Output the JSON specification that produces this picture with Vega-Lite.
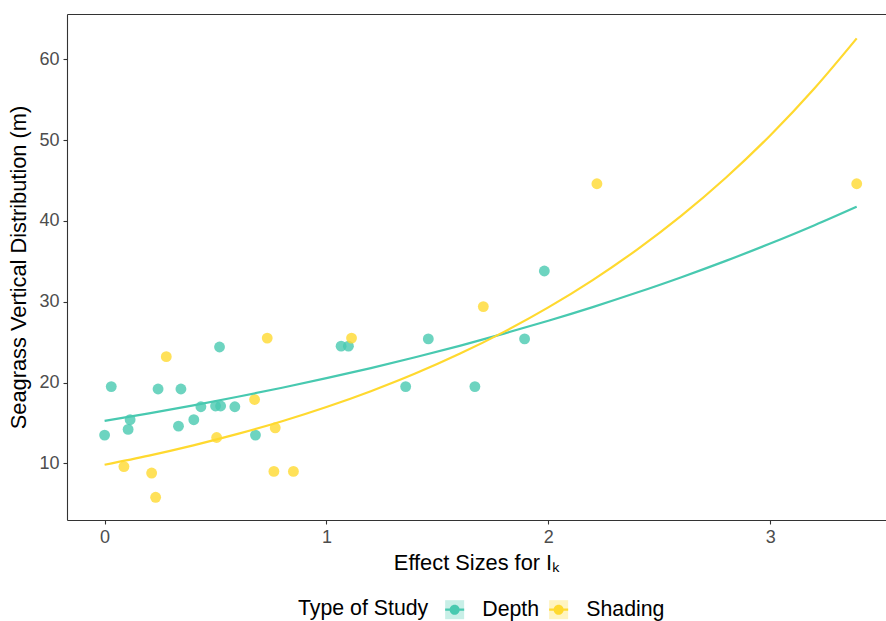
{
  "$schema": "https://vega.github.io/schema/vega-lite/v6.json",
  "width": 819,
  "height": 506,
  "autosize": "none",
  "padding": {"left": 67, "top": 14, "right": 0, "bottom": 101},
  "background": "white",
  "config": {
    "view": {"stroke": null},
    "font": "Liberation Sans",
    "axis": {
      "grid": false,
      "domainColor": "#333333",
      "domainWidth": 1.1,
      "tickColor": "#333333",
      "tickWidth": 1.1,
      "tickSize": 4,
      "labelColor": "#4D4D4D",
      "labelFontSize": 18,
      "labelFont": "Liberation Sans",
      "titleFont": "Liberation Sans",
      "titleFontSize": 21.8,
      "titleFontWeight": "normal",
      "titleColor": "#000000"
    },
    "legend": {
      "labelFont": "Liberation Sans",
      "titleFont": "Liberation Sans",
      "labelFontSize": 21.3,
      "titleFontSize": 21.3,
      "titleFontWeight": "normal",
      "labelColor": "#000000",
      "titleColor": "#000000",
      "padding": 0
    }
  },
  "datasets": {
    "points": [
      {"effect": 0.0, "depth": 13.5, "type": "Depth"},
      {"effect": 0.03, "depth": 19.5, "type": "Depth"},
      {"effect": 0.106, "depth": 14.2, "type": "Depth"},
      {"effect": 0.115, "depth": 15.4, "type": "Depth"},
      {"effect": 0.241, "depth": 19.2, "type": "Depth"},
      {"effect": 0.333, "depth": 14.6, "type": "Depth"},
      {"effect": 0.344, "depth": 19.2, "type": "Depth"},
      {"effect": 0.402, "depth": 15.4, "type": "Depth"},
      {"effect": 0.434, "depth": 17.0, "type": "Depth"},
      {"effect": 0.5, "depth": 17.1, "type": "Depth"},
      {"effect": 0.523, "depth": 17.1, "type": "Depth"},
      {"effect": 0.518, "depth": 24.4, "type": "Depth"},
      {"effect": 0.587, "depth": 17.0, "type": "Depth"},
      {"effect": 0.68, "depth": 13.5, "type": "Depth"},
      {"effect": 1.066, "depth": 24.5, "type": "Depth"},
      {"effect": 1.099, "depth": 24.5, "type": "Depth"},
      {"effect": 1.357, "depth": 19.5, "type": "Depth"},
      {"effect": 1.459, "depth": 25.4, "type": "Depth"},
      {"effect": 1.669, "depth": 19.5, "type": "Depth"},
      {"effect": 1.893, "depth": 25.4, "type": "Depth"},
      {"effect": 1.982, "depth": 33.8, "type": "Depth"},
      {"effect": 0.087, "depth": 9.6, "type": "Shading"},
      {"effect": 0.212, "depth": 8.8, "type": "Shading"},
      {"effect": 0.23, "depth": 5.8, "type": "Shading"},
      {"effect": 0.278, "depth": 23.2, "type": "Shading"},
      {"effect": 0.505, "depth": 13.2, "type": "Shading"},
      {"effect": 0.676, "depth": 17.9, "type": "Shading"},
      {"effect": 0.733, "depth": 25.5, "type": "Shading"},
      {"effect": 0.763, "depth": 9.0, "type": "Shading"},
      {"effect": 0.769, "depth": 14.4, "type": "Shading"},
      {"effect": 0.851, "depth": 9.0, "type": "Shading"},
      {"effect": 1.113, "depth": 25.5, "type": "Shading"},
      {"effect": 1.707, "depth": 29.4, "type": "Shading"},
      {"effect": 2.219, "depth": 44.6, "type": "Shading"},
      {"effect": 3.39, "depth": 44.6, "type": "Shading"}
    ],
    "curves": [
      {"effect": 0.0, "depth": 15.26, "type": "Depth"},
      {"effect": 0.2, "depth": 16.19, "type": "Depth"},
      {"effect": 0.4, "depth": 17.18, "type": "Depth"},
      {"effect": 0.6, "depth": 18.24, "type": "Depth"},
      {"effect": 0.8, "depth": 19.35, "type": "Depth"},
      {"effect": 1.0, "depth": 20.54, "type": "Depth"},
      {"effect": 1.2, "depth": 21.79, "type": "Depth"},
      {"effect": 1.4, "depth": 23.13, "type": "Depth"},
      {"effect": 1.6, "depth": 24.54, "type": "Depth"},
      {"effect": 1.8, "depth": 26.05, "type": "Depth"},
      {"effect": 2.0, "depth": 27.64, "type": "Depth"},
      {"effect": 2.2, "depth": 29.33, "type": "Depth"},
      {"effect": 2.4, "depth": 31.13, "type": "Depth"},
      {"effect": 2.6, "depth": 33.03, "type": "Depth"},
      {"effect": 2.8, "depth": 35.05, "type": "Depth"},
      {"effect": 3.0, "depth": 37.2, "type": "Depth"},
      {"effect": 3.2, "depth": 39.47, "type": "Depth"},
      {"effect": 3.39, "depth": 41.76, "type": "Depth"},
      {"effect": 0.0, "depth": 9.83, "type": "Shading"},
      {"effect": 0.2, "depth": 10.96, "type": "Shading"},
      {"effect": 0.4, "depth": 12.23, "type": "Shading"},
      {"effect": 0.6, "depth": 13.64, "type": "Shading"},
      {"effect": 0.8, "depth": 15.21, "type": "Shading"},
      {"effect": 1.0, "depth": 16.97, "type": "Shading"},
      {"effect": 1.2, "depth": 18.93, "type": "Shading"},
      {"effect": 1.4, "depth": 21.11, "type": "Shading"},
      {"effect": 1.6, "depth": 23.55, "type": "Shading"},
      {"effect": 1.8, "depth": 26.27, "type": "Shading"},
      {"effect": 2.0, "depth": 29.3, "type": "Shading"},
      {"effect": 2.2, "depth": 32.68, "type": "Shading"},
      {"effect": 2.4, "depth": 36.45, "type": "Shading"},
      {"effect": 2.6, "depth": 40.65, "type": "Shading"},
      {"effect": 2.8, "depth": 45.34, "type": "Shading"},
      {"effect": 3.0, "depth": 50.57, "type": "Shading"},
      {"effect": 3.2, "depth": 56.41, "type": "Shading"},
      {"effect": 3.39, "depth": 62.58, "type": "Shading"}
    ]
  },
  "layer": [
    {
      "data": {"name": "points"},
      "mark": {"type": "point", "filled": true, "size": 118, "opacity": 0.8, "strokeWidth": 0},
      "encoding": {
        "x": {
          "field": "effect", "type": "quantitative",
          "scale": {"domain": [-0.1695, 3.522], "nice": false, "zero": false},
          "axis": {"orient": "bottom", "values": [0, 1, 2, 3], "title": "Effect Sizes for Iₖ", "labelPadding": 4, "titlePadding": 6}
        },
        "y": {
          "field": "depth", "type": "quantitative",
          "scale": {"domain": [2.99, 65.6], "nice": false, "zero": false},
          "axis": {"values": [10, 20, 30, 40, 50, 60], "title": "Seagrass Vertical Distribution (m)", "labelPadding": 4, "titlePadding": 8}
        },
        "fill": {
          "field": "type", "type": "nominal",
          "scale": {"domain": ["Depth", "Shading"], "range": ["#48C9B0", "#FFD92F"]},
          "legend": {
            "orient": "none", "legendX": 231, "legendY": 585,
            "direction": "horizontal", "titleOrient": "left",
            "title": "Type of Study",
            "symbolType": "square", "symbolSize": 361, "symbolOpacity": 0.3, "symbolStrokeWidth": 0,
            "labelOffset": 17, "columnPadding": 8, "titlePadding": 15,
            "labelOpacity": 0, "titleOpacity": 0
          }
        }
      }
    },
    {
      "data": {"name": "curves"},
      "mark": {"type": "line", "strokeWidth": 2.2, "clip": true, "interpolate": "monotone"},
      "encoding": {
        "x": {
          "field": "effect", "type": "quantitative",
          "axis": {"orient": "top", "labels": false, "ticks": false, "title": null, "domain": true}
        },
        "y": {"field": "depth", "type": "quantitative"},
        "stroke": {
          "field": "type", "type": "nominal",
          "scale": {"range": ["#48C9B0", "#FFD92F"]},
          "legend": {
            "orient": "none", "legendX": 231, "legendY": 585,
            "direction": "horizontal", "titleOrient": "left",
            "title": "Type of Study",
            "symbolType": "M-1,-0.12H1V0.12H-1Z M0.53,0A0.53,0.53,0,1,1,-0.53,0A0.53,0.53,0,1,1,0.53,0Z",
            "symbolSize": 361, "symbolStrokeWidth": 0,
            "labelOffset": 17, "columnPadding": 8, "titlePadding": 15,
            "encode": {"symbols": {"update": {"fill": {"scale": "stroke", "field": "value"}, "strokeWidth": {"value": 0}, "opacity": {"value": 1}}}}
          }
        }
      }
    }
  ]
}
